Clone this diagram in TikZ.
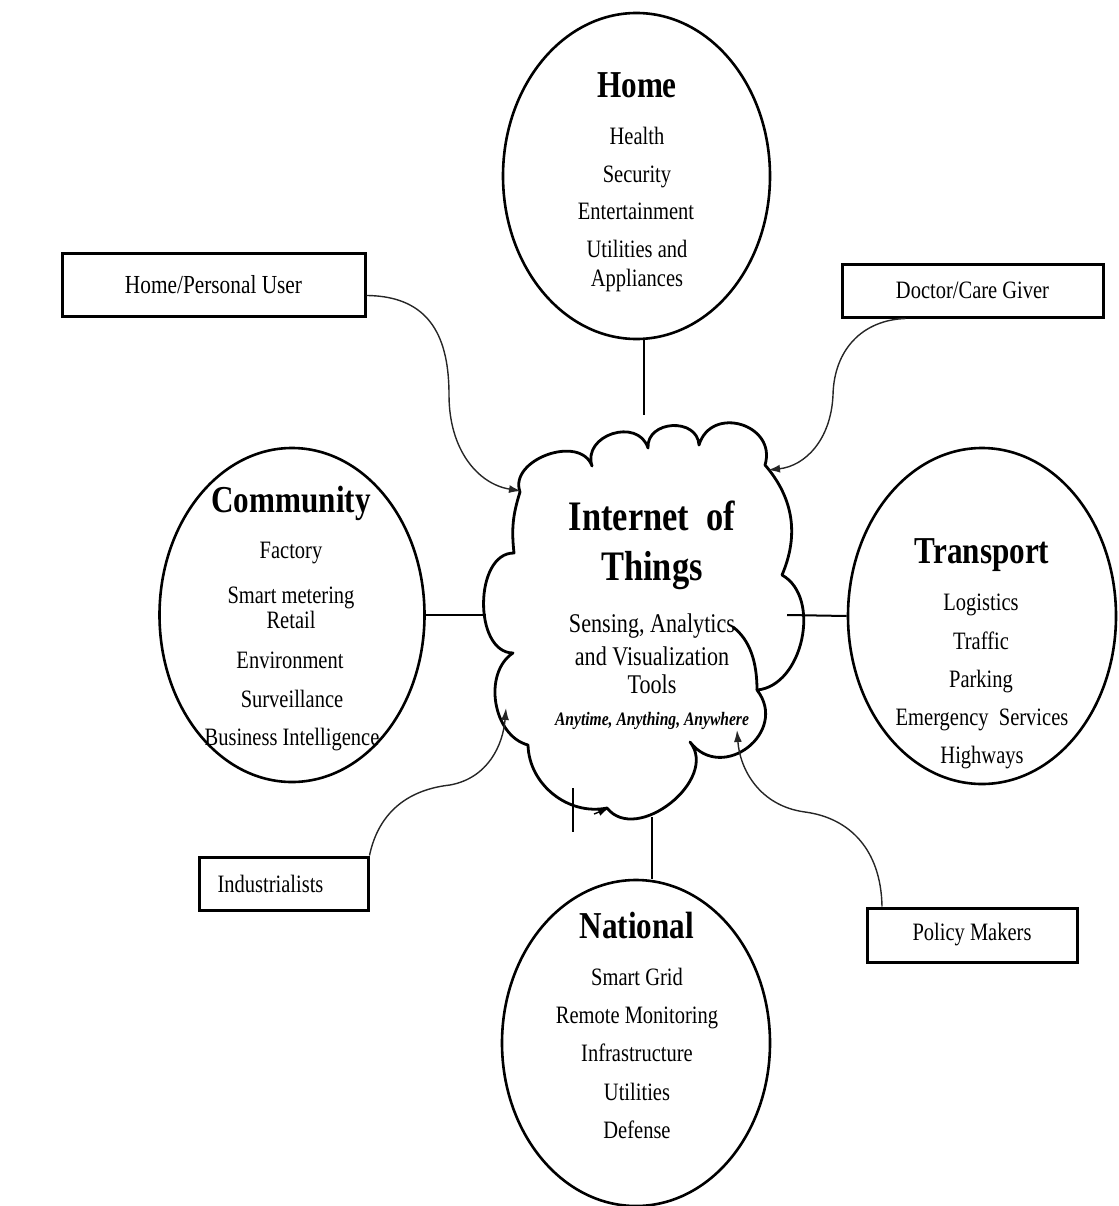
\documentclass[tikz,border=0pt]{standalone}
\usepackage{fontspec}
\setmainfont{Liberation Serif}[FakeStretch=0.82]
\usetikzlibrary{shapes.geometric,arrows.meta}

\begin{document}
\begin{tikzpicture}[x=1pt,y=-1pt,
  bubble/.style={ellipse, draw, line width=2.6pt, inner sep=0pt},
  head/.style={font=\fontsize{38}{40}\selectfont\bfseries, anchor=base, inner sep=0pt},
  bighead/.style={font=\fontsize{42}{46}\selectfont\bfseries, anchor=base, inner sep=0pt},
  item/.style={font=\fontsize{25}{28}\selectfont, anchor=base, inner sep=0pt},
  tool/.style={font=\fontsize{27}{30}\selectfont, anchor=base, inner sep=0pt},
  motto/.style={font=\fontsize{19}{21}\selectfont\bfseries\itshape, anchor=base, inner sep=0pt},
  role/.style={draw, line width=3pt, inner sep=0pt, font=\fontsize{25}{28}\selectfont},
  link/.style={line width=2pt},
  cloudline/.style={line width=2.8pt, line join=round, line cap=round},
  feed/.style={line width=1.4pt, black!85, -{Latex[length=12pt,width=8pt]}},
]
\useasboundingbox (0,0) rectangle (1118,1206);

% ---------- domain ellipses ----------
\node[bubble, minimum width=267, minimum height=326] (home)  at (636.5,176) {};
\node[bubble, minimum width=265, minimum height=334] (comm)  at (292,615) {};
\node[bubble, minimum width=268, minimum height=336] (trans) at (982,616) {};
\node[bubble, minimum width=268, minimum height=326] (natl)  at (636,1043) {};

% Home
\node[head] (home-h) at (637,98) {Home};
\node[item] (home-1) at (637,145) {Health};
\node[item] (home-2) at (637,183) {Security};
\node[item] (home-3) at (636,220) {Entertainment};
\node[item] (home-4) at (637,258) {Utilities and};
\node[item] (home-5) at (637,286) {Appliances};

% Community
\node[head] (comm-h) at (291,512) {Community};
\node[item] (comm-1) at (291,558) {Factory};
\node[item] (comm-2) at (291,603) {Smart metering};
\node[item] (comm-3) at (291,628) {Retail};
\node[item] (comm-4) at (290,668) {Environment};
\node[item] (comm-5) at (292,707) {Surveillance};
\node[item] (comm-6) at (292,745) {Business Intelligence};

% Transport
\node[head] (trans-h) at (982,563) {Transport};
\node[item] (trans-1) at (981,610) {Logistics};
\node[item] (trans-2) at (981,649) {Traffic};
\node[item] (trans-3) at (981,687) {Parking};
\node[item] (trans-4) at (982,725) {Emergency\ \ Services};
\node[item] (trans-5) at (982,763) {Highways};

% National
\node[head] (natl-h) at (637,938) {National};
\node[item] (natl-1) at (637,985) {Smart Grid};
\node[item] (natl-2) at (637,1023) {Remote Monitoring};
\node[item] (natl-3) at (637,1061) {Infrastructure};
\node[item] (natl-4) at (637,1100) {Utilities};
\node[item] (natl-5) at (637,1138) {Defense};

% ---------- central cloud ----------
\coordinate (v1)  at (520,492);
\coordinate (v2)  at (592,466);
\coordinate (v3)  at (648,448);
\coordinate (v4)  at (699,445);
\coordinate (v5)  at (765,465);
\coordinate (v6)  at (782,575);
\coordinate (v7)  at (757,690);
\coordinate (v8)  at (690,742);
\coordinate (v9)  at (607,808);
\coordinate (v10) at (528,745);
\coordinate (v11) at (513,653);
\coordinate (v12) at (514,553);

\draw[cloudline]
  (v1) to[bend left=90, looseness=1.15] (v2)
       to[bend left=90, looseness=1.42] (v3)
       to[bend left=90, looseness=1.4]  (v4)
       to[bend left=90, looseness=1.57] (v5)
       to[bend left=32]                 (v6)
       to[bend left=73]                 (v7)
       to[bend left=90, looseness=1.6]  (v8)
       to[bend left=90, looseness=1.15] (v9)
       to[bend left=50]                 (v10)
       to[bend left=66]                 (v11)
       to[bend left=90, looseness=1.02] (v12)
       to[bend left=12]                 (v1);
% inner stroke of the lower right puff
\draw[cloudline] (733,627) .. controls (750,640) and (757,662) .. (v7);
% small marks on the lower edge
\draw[line width=2pt] (573,788) -- (573,832);
\draw[line width=1.4pt, -{Latex[length=11pt,width=8pt]}] (594,814) -- (609,808);

\node[bighead] (iot-1) at (652,530) {Internet\ \ of};
\node[bighead] (iot-2) at (652,580) {Things};
\node[tool]  (iot-3) at (652,632) {Sensing, Analytics};
\node[tool]  (iot-4) at (652,665) {and Visualization};
\node[tool]  (iot-5) at (652,693) {Tools};
\node[motto] (iot-6) at (652,725) {Anytime, Anything, Anywhere};

% ---------- spokes between cloud and domains ----------
\coordinate (hl) at (644,415);
\coordinate (cl) at (486,615);
\coordinate (tl) at (787,615);
\coordinate (nl) at (652,817);
\draw[link] (home.south -| hl) -- (hl);
\draw[link] (comm.east) -- (cl);
\draw[link] (trans.west) -- (tl);
\draw[link] (natl.north -| nl) -- (nl);

% ---------- stakeholder boxes ----------
\node[role, font=\fontsize{26}{28}\selectfont, minimum width=303, minimum height=63] (hpu) at (213.5,284.5) {Home/Personal User};
\node[role, minimum width=261, minimum height=53] (doc) at (972.5,290.5) {Doctor/Care Giver};
\node[role, minimum width=169, minimum height=53] (ind) at (283.5,883.5) {\hspace*{-26pt}Industrialists};
\node[role, minimum width=210, minimum height=54] (pol) at (972,935) {Policy Makers};

% ---------- stakeholder feeds into the cloud ----------
\coordinate (c-hp)  at (521,491);
\coordinate (c-doc) at (768,470);
\coordinate (c-ind) at (506,708);
\coordinate (c-pol) at (737,730);

\draw[feed] ([yshift=-11pt]hpu.east)
  .. controls (432,296) and (449,340) .. (449,395)
  .. controls (449,450) and (478,484) .. (c-hp);
\draw[feed] ([xshift=-67pt]doc.south)
  .. controls (862,320) and (834,350) .. (833,395)
  .. controls (831,440) and (805,466) .. (c-doc);
\draw[feed] (ind.north east)
  .. controls (378,815) and (405,790) .. (450,785)
  .. controls (488,778) and (503,745) .. (c-ind);
\draw[feed] ([xshift=-90pt]pol.north)
  .. controls (881,850) and (850,818) .. (805,812)
  .. controls (760,806) and (740,770) .. (c-pol);
\end{tikzpicture}
\end{document}
